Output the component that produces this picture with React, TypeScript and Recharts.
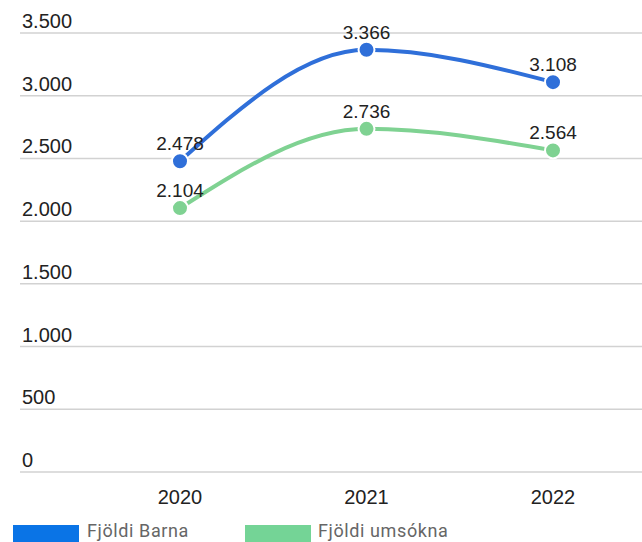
import { LineChart, Line, XAxis, YAxis, CartesianGrid, LabelList } from 'recharts';

const years = ['2020', '2021', '2022'];
const barna = [2478, 3366, 3108];
const umsokna = [2104, 2736, 2564];
const yTicks = [0, 500, 1000, 1500, 2000, 2500, 3000, 3500];

const BLUE = '#2f6fd9';
const GREEN = '#7fd292';

const data = years.map((year, i) => ({ year, barna: barna[i], umsokna: umsokna[i] }));

const fmt = (v: number) => String(v).replace(/\B(?=(\d{3})+(?!\d))/g, '.');

const FONT = 'Liberation Sans, Arial, sans-serif';

function YTick({ y, payload }: any) {
  return (
    <text x={22} y={y - 5} fontSize={20} fontFamily={FONT} fill="#222" textAnchor="start">
      {fmt(payload.value)}
    </text>
  );
}

export default function App() {
  return (
    <div style={{ position: 'relative', width: 642, height: 542, background: '#fff', overflow: 'hidden' }}>
      <style>{'body{margin:0}'}</style>
      <LineChart width={642} height={542} data={data} margin={{ top: 33, right: 0, left: 0, bottom: 40 }}>
        <CartesianGrid vertical={false} stroke="#d2d2d2" strokeWidth={1.5} />
        <XAxis
          dataKey="year"
          height={30}
          axisLine={false}
          tickLine={false}
          padding={{ left: 160, right: 89 }}
          tickMargin={12}
          tick={{ fontSize: 20, fontFamily: FONT, fill: '#222' }}
        />
        <YAxis
          width={20}
          domain={[0, 3500]}
          ticks={yTicks}
          interval={0}
          axisLine={false}
          tickLine={false}
          tick={(p: any) => <YTick {...p} />}
        />
        <Line
          type="monotone"
          dataKey="barna"
          stroke={BLUE}
          strokeWidth={4}
          dot={{ r: 8, fill: BLUE, stroke: '#fff', strokeWidth: 2 }}
          isAnimationActive={false}
        >
          <LabelList dataKey="barna" position="top" offset={11} formatter={(v: any) => fmt(Number(v))} style={{ fontSize: 19, fontFamily: FONT, fill: '#222' }} />
        </Line>
        <Line
          type="monotone"
          dataKey="umsokna"
          stroke={GREEN}
          strokeWidth={4}
          dot={{ r: 8, fill: GREEN, stroke: '#fff', strokeWidth: 2 }}
          isAnimationActive={false}
        >
          <LabelList dataKey="umsokna" position="top" offset={11} formatter={(v: any) => fmt(Number(v))} style={{ fontSize: 19, fontFamily: FONT, fill: '#222' }} />
        </Line>
      </LineChart>
      <div style={{ position: 'absolute', left: 0, top: 522, width: 642, height: 20, fontFamily: 'Roboto, sans-serif', fontSize: 18, letterSpacing: 0.6, color: '#666' }}>
        <div style={{ position: 'absolute', left: 13, top: 3, width: 66, height: 17, background: '#0a74e6' }} />
        <div style={{ position: 'absolute', left: 87, top: 0, lineHeight: '18px', whiteSpace: 'nowrap' }}>Fjöldi Barna</div>
        <div style={{ position: 'absolute', left: 245, top: 3, width: 66, height: 17, background: '#74d496' }} />
        <div style={{ position: 'absolute', left: 318, top: 0, lineHeight: '18px', whiteSpace: 'nowrap' }}>Fjöldi umsókna</div>
      </div>
    </div>
  );
}
